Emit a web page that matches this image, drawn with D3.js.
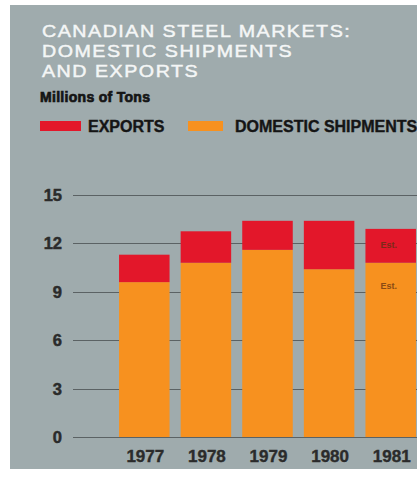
<!DOCTYPE html>
<html>
<head>
<meta charset="utf-8">
<script src="https://cdn.jsdelivr.net/npm/d3@7"></script>
<style>
  body { margin: 0; background: #fff; }
  svg { display: block; }
</style>
</head>
<body>
<div id="chart"></div>
<script>
var years = ["1977", "1978", "1979", "1980", "1981"];
var domestic = [9.6, 10.8, 11.6, 10.4, 10.8];
var exports = [1.7, 1.95, 1.8, 3.0, 2.1];
var estimated = [false, false, false, false, true];
var yTicks = [0, 3, 6, 9, 12, 15];
var titleLines = ["CANADIAN STEEL MARKETS:", "DOMESTIC SHIPMENTS", "AND EXPORTS"];

var W = 417, H = 479;
var bg = "#9fabad", red = "#e3172a", orange = "#f7911f", ink = "#2b2b2b";
var font = "'Liberation Sans', Arial, sans-serif";

var svg = d3.select("#chart").append("svg")
    .attr("width", W)
    .attr("height", H);

// grey panel
svg.append("rect")
    .attr("x", 10).attr("y", 5)
    .attr("width", W - 10).attr("height", 464)
    .attr("fill", bg);

// title (wide face: stretched horizontally)
svg.append("g")
    .attr("transform", "translate(42,0) scale(1.17,1)")
    .selectAll("text")
    .data(titleLines)
    .enter().append("text")
    .attr("x", 0)
    .attr("y", function(d, i){ return 37 + i * 20; })
    .attr("fill", "#f4f6f6")
    .attr("stroke", "#f4f6f6")
    .attr("stroke-width", 0.45)
    .style("font-family", font)
    .style("font-size", "16.8px")
    .style("letter-spacing", "1.3px")
    .text(function(d){ return d; });

svg.append("text")
    .attr("x", 40).attr("y", 102)
    .attr("fill", "#151515")
    .attr("stroke", "#151515")
    .attr("stroke-width", 0.7)
    .style("font-family", font)
    .style("font-weight", "bold")
    .style("font-size", "14px")
    .style("letter-spacing", "0.3px")
    .text("Millions of Tons");

// legend
var legend = [{label: "EXPORTS", color: red, x: 40, w: 41, gap: 7}, {label: "DOMESTIC SHIPMENTS", color: orange, x: 188, w: 35, gap: 12}];
var lg = svg.append("g").selectAll("g")
    .data(legend)
    .enter().append("g");
lg.append("rect")
    .attr("x", function(d){ return d.x; })
    .attr("y", 121)
    .attr("width", function(d){ return d.w; })
    .attr("height", 10)
    .attr("fill", function(d){ return d.color; });
lg.append("text")
    .attr("x", function(d){ return d.x + d.w + d.gap; })
    .attr("y", 131.5)
    .attr("fill", "#151515")
    .attr("stroke", "#151515")
    .attr("stroke-width", 0.4)
    .style("font-family", font)
    .style("font-weight", "bold")
    .style("font-size", "16px")
    .text(function(d){ return d.label; });

// scales
var x = d3.scaleBand()
    .domain(years)
    .range([113.5, 421.5])
    .paddingInner(0.18)
    .paddingOuter(0.09);

var y = d3.scaleLinear()
    .domain([0, 15])
    .range([437, 195]);

// gridlines
svg.append("g").selectAll("line")
    .data(yTicks)
    .enter().append("line")
    .attr("x1", 73).attr("x2", W)
    .attr("y1", function(d){ return Math.round(y(d)) + 0.5; })
    .attr("y2", function(d){ return Math.round(y(d)) + 0.5; })
    .attr("stroke", "#5b6264")
    .attr("stroke-width", 1);

// y tick labels
svg.append("g").selectAll("text")
    .data(yTicks)
    .enter().append("text")
    .attr("x", 62)
    .attr("y", function(d){ return y(d); })
    .attr("dy", "0.36em")
    .attr("text-anchor", "end")
    .attr("fill", ink)
    .attr("stroke", ink)
    .attr("stroke-width", 0.5)
    .style("font-family", font)
    .style("font-weight", "bold")
    .style("font-size", "16.5px")
    .text(function(d){ return d; });

// bars
var bars = svg.append("g").selectAll("g")
    .data(years)
    .enter().append("g");

bars.append("rect")
    .attr("x", function(d){ return x(d); })
    .attr("width", x.bandwidth())
    .attr("y", function(d, i){ return y(domestic[i]); })
    .attr("height", function(d, i){ return y(0) - y(domestic[i]); })
    .attr("fill", orange);

bars.append("rect")
    .attr("x", function(d){ return x(d); })
    .attr("width", x.bandwidth())
    .attr("y", function(d, i){ return y(domestic[i] + exports[i]); })
    .attr("height", function(d, i){ return y(domestic[i]) - y(domestic[i] + exports[i]); })
    .attr("fill", red);

// "Est." markers
var est = bars.filter(function(d, i){ return estimated[i]; });
est.append("text")
    .attr("x", function(d){ return x(d) + x.bandwidth() / 2 - 2; })
    .attr("y", function(d){ var i = years.indexOf(d); return y(domestic[i] + exports[i] / 2) + 2; })
    .attr("text-anchor", "middle")
    .attr("fill", "#7a2a18")
    .style("font-family", font)
    .style("font-weight", "bold")
    .style("font-size", "9px")
    .text("Est.");
est.append("text")
    .attr("x", function(d){ return x(d) + x.bandwidth() / 2 - 2; })
    .attr("y", function(d){ var i = years.indexOf(d); return y(domestic[i]) + 26; })
    .attr("text-anchor", "middle")
    .attr("fill", "#8a4a14")
    .style("font-family", font)
    .style("font-weight", "bold")
    .style("font-size", "9px")
    .text("Est.");

// year labels
svg.append("g").selectAll("text")
    .data(years)
    .enter().append("text")
    .attr("x", function(d){ return x(d) + x.bandwidth() / 2 + 1; })
    .attr("y", 461.5)
    .attr("text-anchor", "middle")
    .attr("fill", ink)
    .attr("stroke", ink)
    .attr("stroke-width", 0.4)
    .style("font-family", font)
    .style("font-weight", "bold")
    .style("font-size", "17px")
    .text(function(d){ return d; });
</script>
</body>
</html>
